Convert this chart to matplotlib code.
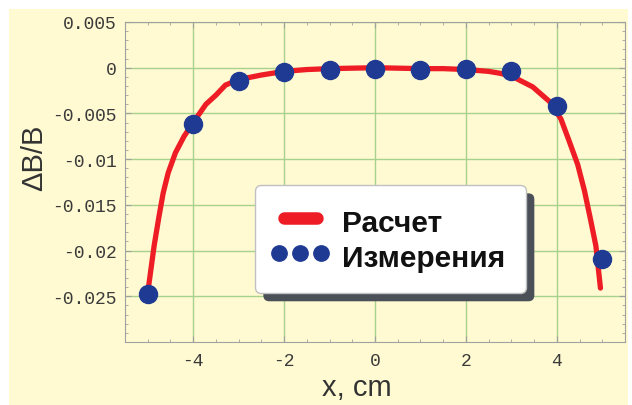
import matplotlib
matplotlib.use("Agg")
import matplotlib.pyplot as plt
from matplotlib.patches import Rectangle
from matplotlib.ticker import MultipleLocator
from matplotlib.legend_handler import HandlerLine2D

# расчет (кривая)
x_calc = [-4.98, -4.86, -4.75, -4.66, -4.55, -4.39, -4.2, -4.0, -3.72, -3.5, -3.29,
          -3.0, -2.5, -2.0, -1.5, -1.0, 0.0, 1.0, 1.5, 2.0, 2.5, 2.74, 3.0, 3.47,
          3.84, 4.09, 4.27, 4.46, 4.61, 4.75, 4.86, 4.96]
y_calc = [-0.0239, -0.0195, -0.0162, -0.0137, -0.0115, -0.0093, -0.0075, -0.0060,
          -0.0040, -0.0030, -0.0019, -0.0013, -0.0008, -0.0004, -0.0002, -0.0001,
          0.0, -0.0001, -0.0001, -0.0002, -0.0004, -0.0006, -0.0009, -0.0021,
          -0.0037, -0.0056, -0.0080, -0.0106, -0.0135, -0.0168, -0.0195, -0.0241]

# измерения (точки)
x_meas = [-5, -4, -3, -2, -1, 0, 1, 2, 3, 4, 5]
y_meas = [-0.0248, -0.0062, -0.0014, -0.0005, -0.0003, -0.0001, -0.0002,
          -0.0001, -0.0004, -0.0042, -0.0209]

xticks = [-4, -2, 0, 2, 4]
yticks = [0.005, 0, -0.005, -0.01, -0.015, -0.02, -0.025]
ytick_labels = ["0.005", "0", "-0.005", "-0.01", "-0.015", "-0.02", "-0.025"]

plt.rcParams['axes.unicode_minus'] = False

fig = plt.figure(figsize=(6.32, 4.06), dpi=100, facecolor="white")
fig.patches.append(Rectangle((9 / 632, 0), 619 / 632, 396 / 406, transform=fig.transFigure,
                             facecolor="#fffad2", edgecolor="none", zorder=-10))
ax = fig.add_axes([125 / 632, 1 - 343 / 406, 500 / 632, 320 / 406])
ax.set_facecolor("#fffad2")

calc_line, = ax.plot(x_calc, y_calc, color="#ee1c24", lw=3.8, solid_capstyle="round",
                     label="Расчет", zorder=3)
meas_line, = ax.plot(x_meas, y_meas, "o", color="#1f3a93", ms=13, ls="none",
                     label="Измерения", zorder=4)

ax.set_xlim(-5.5, 5.5)
ax.set_ylim(-0.03, 0.005)
ax.set_xticks(xticks)
ax.set_xticklabels([str(t) for t in xticks])
ax.set_yticks(yticks)
ax.set_yticklabels(ytick_labels)
ax.xaxis.set_minor_locator(MultipleLocator(0.5))
ax.yaxis.set_minor_locator(MultipleLocator(0.001))
ax.grid(True, which="major", color="#a9d18e", lw=1.0, zorder=0)
ax.set_axisbelow(True)
for s in ax.spines.values():
    s.set_color("#a0a0a0")
ax.tick_params(which="both", direction="in", top=True, right=True, colors="#a0a0a0",
               labelcolor="#3a3a3a")
ax.tick_params(which="major", length=4)
ax.tick_params(which="minor", length=2)
ax.tick_params(axis="y", pad=6)
ax.tick_params(axis="x", pad=7)
for lab in ax.get_xticklabels() + ax.get_yticklabels():
    lab.set_fontfamily("Liberation Mono")
    lab.set_fontsize(13)

ax.set_ylabel("ΔB/B", fontsize=21, color="#333333", family="Liberation Sans")
ax.yaxis.set_label_coords(-0.154, 0.58)
ax.set_xlabel("x, cm", fontsize=21, color="#333333", family="Liberation Sans")
ax.xaxis.set_label_coords(0.464, -0.097)

leg = ax.legend(handles=[calc_line, meas_line],
                handler_map={meas_line: HandlerLine2D(marker_pad=0.15)},
                loc="upper left", bbox_to_anchor=(0.26, 0.144, 0.542, 0.3466), mode="expand",
                borderaxespad=0, numpoints=3, markerscale=0.85,
                prop={"family": "Liberation Sans", "weight": "bold", "size": 21.5},
                handlelength=1.7, handleheight=1.35, handletextpad=0.55, labelspacing=0.05,
                borderpad=0.66, fancybox=True, framealpha=1, edgecolor="#c0c0c0",
                shadow={"ox": 6, "oy": -6, "facecolor": "#4b5058", "edgecolor": "none", "alpha": 1})
leg.legend_handles[0].set_linewidth(9)
leg.legend_handles[0].set_solid_capstyle("round")
for t in leg.get_texts():
    t.set_color("#111111")

fig.savefig("out.png", dpi=100, facecolor=fig.get_facecolor())
